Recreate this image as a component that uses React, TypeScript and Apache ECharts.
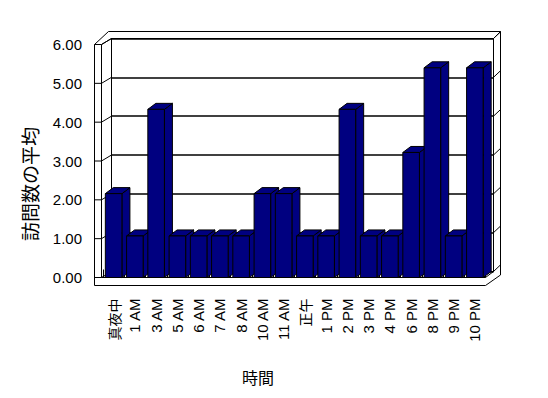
import React, { useEffect, useRef } from "react";
import * as echarts from "echarts";

const categories = ["真夜中", "1 AM", "3 AM", "5 AM", "6 AM", "7 AM", "8 AM", "10 AM", "11 AM", "正午", "1 PM", "2 PM", "3 PM", "4 PM", "6 PM", "8 PM", "9 PM", "10 PM"];
const averageVisits = [2.16, 1.07, 4.33, 1.07, 1.07, 1.07, 1.07, 2.16, 2.16, 1.07, 1.07, 4.33, 1.07, 1.07, 3.22, 5.4, 1.07, 5.4];
const yTicks = [0, 1, 2, 3, 4, 5, 6];
const yAxisTitle = "訪問数の平均";
const xAxisTitle = "時間";

const FONT = '"Liberation Sans", "Noto Sans CJK JP", sans-serif';
const CJK = '"Noto Sans CJK JP", sans-serif';

// layout
const FL = 94.5, FI = 101.5, GL = 103, GR = 485.5, GT = 44.5, GB = 277.5, FB = 285.5;
const BL = 111.5, BR = 493.5, BT = 38.5, BB = 271.5, OT = 31.5, OR = 500.5;
const DX = 8, DY = -6;

export default function App() {
  const ref = useRef<HTMLDivElement>(null);
  useEffect(() => {
    if (!ref.current) return;
    const chart = echarts.init(ref.current, null, { renderer: "svg" });
    const line = (points: number[][]) => ({
      type: "polyline",
      shape: { points },
      style: { stroke: "#000", lineWidth: 1, fill: null },
      silent: true,
    });
    const elements: any[] = [];
    elements.push(line([[FL, FB], [FL, GT], [108.5, OT], [OR, OT], [OR, 275], [GR, FB], [FL, FB]]));
    elements.push(line([[FI, GT], [FI, GB], [GR, GB], [BR, BB], [BR, BT], [BL, BT], [FI, GT]]));
    elements.push(line([[BR, BT], [OR, OT]]));
    yTicks.forEach((k) => {
      const yF = GB - (k * (GB - GT)) / 6;
      const yB = BB - (k * (BB - BT)) / 6;
      elements.push(line([[FL, yF], [FI, yF], [BL, yB]]));
      elements.push(line([[BR, yB], [OR, yB - 6.6]]));
    });
    elements.push({
      type: "text",
      x: 29,
      y: 184,
      rotation: Math.PI / 2,
      style: { text: yAxisTitle, font: `19px ${CJK}`, fill: "#000", align: "center", verticalAlign: "middle", textAlign: "center", textVerticalAlign: "middle" },
    });
    elements.push({
      type: "text",
      x: 258,
      y: 377,
      style: { text: xAxisTitle, font: `16px ${CJK}`, fill: "#000", align: "center", verticalAlign: "middle", textAlign: "center", textVerticalAlign: "middle" },
    });

    const style = { fill: "#000080", stroke: "#000", lineWidth: 1 };
    chart.setOption({
      animation: false,
      backgroundColor: "#fff",
      grid: [
        { left: GL, top: GT, width: GR - GL, height: GB - GT },
        { left: BL, top: BT, width: BR - BL, height: BB - BT },
      ],
      xAxis: [
        {
          gridIndex: 0,
          type: "category",
          data: categories,
          boundaryGap: true,
          offset: 8,
          axisLine: { show: false },
          axisTick: { show: true, inside: true, length: 8, lineStyle: { color: "#000", width: 1 } },
          axisLabel: {
            rotate: 90,
            margin: 13,
            interval: 0,
            fontSize: 15,
            fontFamily: FONT,
            color: "#000",
            formatter: (v: string) => (/[^\x00-\x7F]/.test(v) ? `{c|${v}}` : v),
            rich: { c: { fontSize: 14, fontFamily: CJK, color: "#000" } },
          },
        },
        {
          gridIndex: 1,
          type: "category",
          data: categories,
          axisLine: { show: true, lineStyle: { color: "#000", width: 1 } },
          axisTick: { show: false },
          axisLabel: { show: false },
        },
      ],
      yAxis: [
        {
          gridIndex: 0,
          type: "value",
          min: 0,
          max: 6,
          interval: 1,
          offset: 9,
          axisLine: { show: false },
          axisTick: { show: false },
          splitLine: { show: false },
          axisLabel: {
            margin: 12,
            fontSize: 15,
            fontFamily: FONT,
            color: "#000",
            formatter: (v: number) => v.toFixed(2),
          },
        },
        {
          gridIndex: 1,
          type: "value",
          min: 0,
          max: 6,
          interval: 1,
          axisLine: { show: true, lineStyle: { color: "#000", width: 1 } },
          axisTick: { show: false },
          axisLabel: { show: false },
          splitLine: { show: true, lineStyle: { color: "#000", width: 1.5 } },
        },
      ],
      graphic: { elements },
      series: [
        {
          type: "custom",
          xAxisIndex: 0,
          yAxisIndex: 0,
          clip: false,
          encode: { x: 0, y: 1 },
          data: averageVisits.map((v, i) => [i, v]),
          renderItem: (params: any, api: any) => {
            const idx = api.value(0);
            const v = api.value(1);
            const top = api.coord([idx, v]);
            const bot = api.coord([idx, 0]);
            const w = api.size([1, 0])[0] * 0.78;
            const x0 = top[0] - w / 2;
            const x1 = top[0] + w / 2;
            const y0 = top[1];
            const y1 = bot[1];
            return {
              type: "group",
              children: [
                { type: "polygon", shape: { points: [[x1, y0], [x1 + DX, y0 + DY], [x1 + DX, y1 + DY], [x1, y1]] }, style },
                { type: "polygon", shape: { points: [[x0, y0], [x0 + DX, y0 + DY], [x1 + DX, y0 + DY], [x1, y0]] }, style },
                { type: "rect", shape: { x: x0, y: y0, width: w, height: y1 - y0 }, style },
              ],
            };
          },
        },
      ],
    });
    return () => chart.dispose();
  }, []);
  return <div ref={ref} style={{ position: "fixed", left: 0, top: 0, width: 548, height: 398 }} />;
}
